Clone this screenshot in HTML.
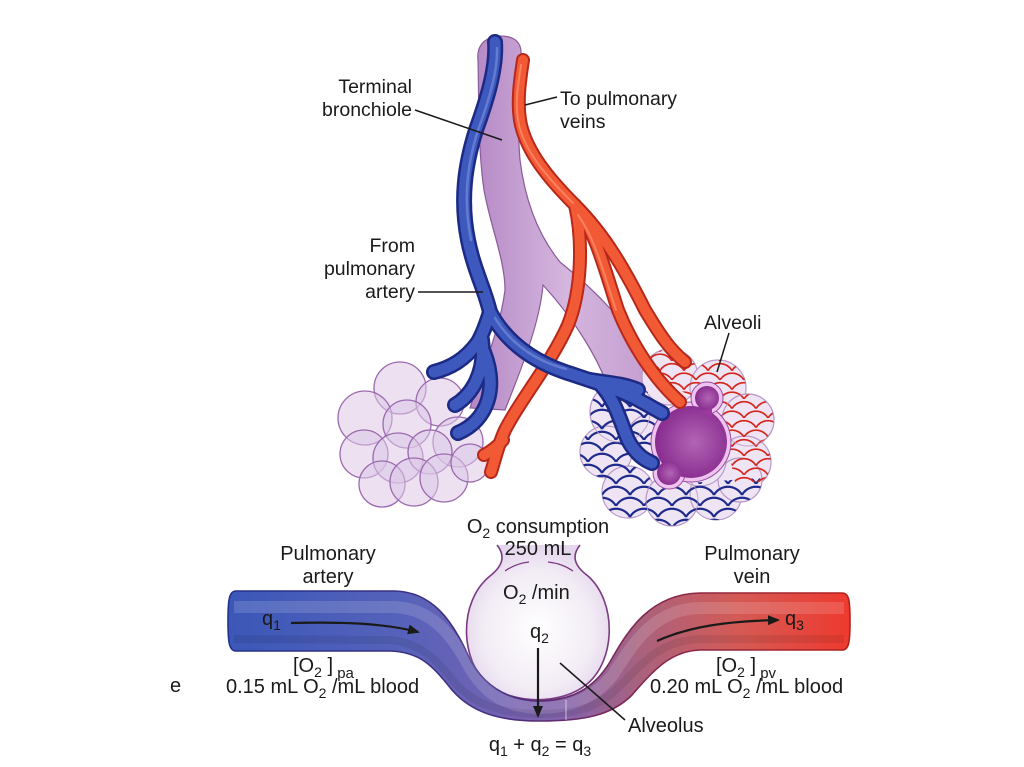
<!DOCTYPE html>
<html><head><meta charset="utf-8"><style>
html,body{margin:0;padding:0;background:#fff;}
svg{display:block;}
text{font-family:"Liberation Sans",Arial,sans-serif;fill:#1a1a1a;}
</style></head><body>
<svg width="1024" height="767" viewBox="0 0 1024 767" xmlns="http://www.w3.org/2000/svg">
<defs>
  <linearGradient id="bron" x1="0" y1="0" x2="1" y2="0">
    <stop offset="0" stop-color="#b487c4"/>
    <stop offset="0.5" stop-color="#d4b6de"/>
    <stop offset="1" stop-color="#c29ace"/>
  </linearGradient>
  <linearGradient id="tube" gradientUnits="userSpaceOnUse" x1="228" y1="0" x2="850" y2="0">
    <stop offset="0" stop-color="#3b57b8"/>
    <stop offset="0.28" stop-color="#5662ba"/>
    <stop offset="0.45" stop-color="#7563b2"/>
    <stop offset="0.55" stop-color="#8562a8"/>
    <stop offset="0.66" stop-color="#a8627e"/>
    <stop offset="0.82" stop-color="#d55a55"/>
    <stop offset="1" stop-color="#ee3a2e"/>
  </linearGradient>
  <linearGradient id="tubeS" gradientUnits="userSpaceOnUse" x1="228" y1="0" x2="850" y2="0">
    <stop offset="0" stop-color="#22328a"/>
    <stop offset="0.45" stop-color="#4a2f80"/>
    <stop offset="0.62" stop-color="#7a2a5a"/>
    <stop offset="1" stop-color="#b2221c"/>
  </linearGradient>
  <radialGradient id="alv" cx="0.5" cy="0.55" r="0.55">
    <stop offset="0" stop-color="#ffffff"/>
    <stop offset="0.7" stop-color="#f2ecf5"/>
    <stop offset="1" stop-color="#e4d6ec"/>
  </radialGradient>
  <radialGradient id="hole" cx="0.55" cy="0.5" r="0.6">
    <stop offset="0" stop-color="#b264b4"/>
    <stop offset="1" stop-color="#84268c"/>
  </radialGradient>
  <pattern id="scaleB" width="28" height="22" patternUnits="userSpaceOnUse">
    <path d="M0,22 A16,16 0 0 1 28,22 M-14,11 A16,16 0 0 1 14,11 M14,11 A16,16 0 0 1 42,11" fill="none" stroke="#1e2a8c" stroke-width="2.2"/>
  </pattern>
  <pattern id="scaleR" width="24" height="19" patternUnits="userSpaceOnUse">
    <path d="M0,19 A14,14 0 0 1 24,19 M-12,9.5 A14,14 0 0 1 12,9.5 M12,9.5 A14,14 0 0 1 36,9.5" fill="none" stroke="#d4261c" stroke-width="1.7"/>
  </pattern>
  <clipPath id="rc">
    <circle cx="670" cy="377" r="28"/><circle cx="718" cy="388" r="28"/>
    <circle cx="748" cy="420" r="26"/><circle cx="745" cy="462" r="26"/>
    <circle cx="620" cy="412" r="30"/><circle cx="606" cy="452" r="26"/>
    <circle cx="628" cy="492" r="26"/><circle cx="672" cy="500" r="26"/>
    <circle cx="716" cy="494" r="26"/><circle cx="740" cy="480" r="22"/>
    <circle cx="652" cy="440" r="26"/><circle cx="700" cy="460" r="26"/>
  </clipPath>
  <marker id="ah" markerWidth="12" markerHeight="10" refX="10" refY="5" orient="auto" markerUnits="userSpaceOnUse">
    <path d="M0,0 L12,5 L0,10 Z" fill="#1a1a1a"/>
  </marker>
</defs>

<!-- ===== Top illustration ===== -->
<path d="M478,60 C476,42 490,36 500,36 C514,36 522,42 521,55 C519,90 517,125 520,160 C525,200 538,235 560,262 C595,290 630,325 662,378 L612,398 C600,360 575,320 543,285 C540,320 525,360 505,410 L470,408 C482,370 500,330 505,290 C505,260 490,225 484,190 C478,150 479,100 478,60 Z" fill="url(#bron)" stroke="#8b5b9b" stroke-width="1.2"/>

<!-- left cluster -->
<g fill="#dcc6e6" fill-opacity="0.55" stroke="#9c6aae" stroke-width="1.3">
  <circle cx="400" cy="388" r="26"/><circle cx="440" cy="402" r="24"/>
  <circle cx="365" cy="418" r="27"/><circle cx="407" cy="424" r="24"/>
  <circle cx="458" cy="442" r="25"/><circle cx="364" cy="454" r="24"/>
  <circle cx="398" cy="458" r="25"/><circle cx="430" cy="452" r="22"/>
  <circle cx="382" cy="484" r="23"/><circle cx="414" cy="482" r="24"/>
  <circle cx="444" cy="478" r="24"/><circle cx="470" cy="463" r="19"/>
</g>

<!-- right cluster -->
<g fill="#efe4f3" stroke="#b898c8" stroke-width="1.2">
  <circle cx="670" cy="377" r="28"/><circle cx="718" cy="388" r="28"/>
  <circle cx="748" cy="420" r="26"/><circle cx="745" cy="462" r="26"/>
  <circle cx="620" cy="412" r="30"/><circle cx="606" cy="452" r="26"/>
  <circle cx="628" cy="492" r="26"/><circle cx="672" cy="500" r="26"/>
  <circle cx="716" cy="494" r="26"/><circle cx="740" cy="480" r="22"/>
  <circle cx="652" cy="440" r="26"/><circle cx="700" cy="460" r="26"/>
</g>
<g clip-path="url(#rc)">
  <path d="M570,345 L640,380 L665,420 L660,485 L760,478 L780,535 L570,535 Z" fill="url(#scaleB)"/>
  <path d="M635,345 L785,345 L785,482 L735,482 L722,420 L690,395 L655,380 Z" fill="url(#scaleR)"/>
</g>
<g fill="none" stroke="#b898c8" stroke-width="1" opacity="0.8">
  <circle cx="620" cy="412" r="30"/><circle cx="672" cy="500" r="26"/><circle cx="748" cy="420" r="26"/>
</g>
<!-- central opening -->
<g fill="#eec4ee" stroke="#9a4aa0" stroke-width="1">
  <circle cx="691" cy="442" r="40"/><circle cx="707" cy="398" r="16"/><circle cx="669" cy="473" r="16"/>
</g>
<g fill="url(#hole)">
  <circle cx="691" cy="442" r="36"/><circle cx="707" cy="398" r="12"/><circle cx="669" cy="473" r="12"/>
</g>
<path d="M700,412 L712,408 L712,418 Z" fill="#9a3a9c"/>

<!-- red vein -->
<g fill="none" stroke-linecap="round">
  <g stroke="#b8281a" stroke-width="14">
    <path d="M523,60 C520,80 517,100 520,120 C525,150 548,178 575,205"/>
    <path d="M575,205 C583,240 582,290 568,325 C550,365 520,400 505,430 C498,445 495,460 491,472"/>
    <path d="M503,440 C496,448 490,452 484,455"/>
    <path d="M575,205 C595,230 605,270 618,310 C632,345 655,380 680,402"/>
    <path d="M575,205 C605,235 625,270 645,310 C660,335 670,350 685,362"/>
  </g>
  <g stroke="#f25a35" stroke-width="10">
    <path d="M523,60 C520,80 517,100 520,120 C525,150 548,178 575,205"/>
    <path d="M575,205 C583,240 582,290 568,325 C550,365 520,400 505,430 C498,445 495,460 491,472"/>
    <path d="M503,440 C496,448 490,452 484,455"/>
    <path d="M575,205 C595,230 605,270 618,310 C632,345 655,380 680,402"/>
    <path d="M575,205 C605,235 625,270 645,310 C660,335 670,350 685,362"/>
  </g>
  <g stroke="#ff9c7c" stroke-width="2" opacity="0.6">
    <path d="M521,65 C518,85 515,102 518,120 C523,150 546,176 573,203"/>
    <path d="M578,215 C596,240 604,275 616,310"/>
  </g>
</g>

<!-- blue artery -->
<g fill="none" stroke-linecap="round">
  <g stroke="#1c2a85" stroke-width="16">
    <path d="M495,42 C497,70 485,105 476,130 C465,165 460,200 468,240 C474,270 485,290 490,312"/>
    <path d="M490,312 C486,325 482,335 478,342 C465,360 450,368 434,372"/>
    <path d="M482,340 C486,372 472,395 455,405"/>
    <path d="M484,352 C498,388 488,420 458,433"/>
    <path d="M490,312 C505,340 530,360 565,372 C595,382 615,388 635,398 C648,405 655,409 662,413"/>
    <path d="M590,380 C608,383 625,384 638,390"/>
    <path d="M600,384 C615,400 620,420 628,440 C636,455 645,460 652,463"/>
  </g>
  <g stroke="#3d59bd" stroke-width="11">
    <path d="M495,42 C497,70 485,105 476,130 C465,165 460,200 468,240 C474,270 485,290 490,312"/>
    <path d="M490,312 C486,325 482,335 478,342 C465,360 450,368 434,372"/>
    <path d="M482,340 C486,372 472,395 455,405"/>
    <path d="M484,352 C498,388 488,420 458,433"/>
    <path d="M490,312 C505,340 530,360 565,372 C595,382 615,388 635,398 C648,405 655,409 662,413"/>
    <path d="M590,380 C608,383 625,384 638,390"/>
    <path d="M600,384 C615,400 620,420 628,440 C636,455 645,460 652,463"/>
  </g>
  <g stroke="#7d93dc" stroke-width="2.5" opacity="0.6">
    <path d="M497,48 C498,72 487,106 478,130 C467,165 463,200 471,240"/>
    <path d="M495,318 C510,342 532,360 566,369"/>
  </g>
</g>

<!-- top leaders -->
<g stroke="#1a1a1a" stroke-width="1.5" fill="none">
  <line x1="415" y1="110" x2="502" y2="140"/>
  <line x1="525" y1="105" x2="557" y2="97"/>
  <line x1="418" y1="292" x2="483" y2="292"/>
  <line x1="729" y1="333" x2="717" y2="372"/>
</g>

<g font-size="19.5">
  <text x="412" y="93" text-anchor="end">Terminal</text>
  <text x="412" y="116" text-anchor="end">bronchiole</text>
  <text x="560" y="105">To pulmonary</text>
  <text x="560" y="128">veins</text>
  <text x="415" y="252" text-anchor="end">From</text>
  <text x="415" y="275" text-anchor="end">pulmonary</text>
  <text x="415" y="298" text-anchor="end">artery</text>
  <text x="704" y="329">Alveoli</text>
</g>

<!-- ===== Bottom diagram ===== -->
<path d="M497,545 C505,555 504,565 490,576 C458,602 460,660 488,684 C513,705 562,705 587,684 C616,660 617,602 588,576 C573,565 572,555 580,545" fill="url(#alv)" stroke="#7a3a82" stroke-width="1.6"/>
<path d="M505,571 C512,566 520,563 529,562" fill="none" stroke="#7a3a82" stroke-width="1.3"/>
<path d="M548,562 C557,563 566,566 573,571" fill="none" stroke="#7a3a82" stroke-width="1.3"/>

<path d="M236,591 L395,591 C432,592 452,620 468,655 C482,685 505,700 538,701 C572,701 594,688 610,662 C628,630 650,594 700,593 L842,593 C849,593 850,600 850,621 C850,642 849,650 842,650 L700,650 C672,651 655,668 632,695 C612,715 585,721 540,721 C500,721 472,713 452,690 C432,665 420,652 390,651 L236,651 C229,651 228,642 228,621 C228,600 229,591 236,591 Z" fill="url(#tube)" stroke="url(#tubeS)" stroke-width="1.6"/>
<path d="M234,607 L395,607 C435,609 455,640 470,668 C485,693 505,707 538,708 C572,708 594,697 612,676 C632,646 652,609 700,608 L844,608" fill="none" stroke="#ffffff" stroke-opacity="0.14" stroke-width="12"/>
<path d="M234,639 L390,640 C425,643 440,665 457,685 C477,706 505,714 540,714 C580,714 600,706 620,686 C645,661 660,641 700,639 L844,639" fill="none" stroke="#000" stroke-opacity="0.08" stroke-width="8"/>
<line x1="566" y1="700" x2="566" y2="720" stroke="#ffffff" stroke-opacity="0.6" stroke-width="1"/>

<g fill="none" stroke="#1a1a1a" stroke-width="2.2">
  <path d="M291,623 C330,622 380,622 418,632" marker-end="url(#ah)"/>
  <path d="M657,641 C690,626 730,621 778,620" marker-end="url(#ah)"/>
  <path d="M538,648 L538,716" marker-end="url(#ah)"/>
</g>
<line x1="560" y1="663" x2="625" y2="720" stroke="#1a1a1a" stroke-width="1.5"/>

<g font-size="20">
  <text x="538" y="533" text-anchor="middle">O<tspan dy="5" font-size="14">2</tspan><tspan dy="-5"> consumption</tspan></text>
  <text x="538" y="555" text-anchor="middle">250 mL</text>
  <text x="328" y="560" text-anchor="middle">Pulmonary</text>
  <text x="328" y="583" text-anchor="middle">artery</text>
  <text x="752" y="560" text-anchor="middle">Pulmonary</text>
  <text x="752" y="583" text-anchor="middle">vein</text>
  <text x="503" y="599">O<tspan dy="5" font-size="14">2</tspan><tspan dy="-5"> /min</tspan></text>
  <text x="262" y="625">q<tspan dy="5" font-size="14">1</tspan></text>
  <text x="530" y="638">q<tspan dy="5" font-size="14">2</tspan></text>
  <text x="785" y="625">q<tspan dy="5" font-size="14">3</tspan></text>
  <text x="293" y="672">[O<tspan dy="5" font-size="14">2</tspan><tspan dy="-5"> ]</tspan><tspan dy="6" font-size="15"> pa</tspan></text>
  <text x="226" y="693">0.15 mL O<tspan dy="5" font-size="14">2</tspan><tspan dy="-5"> /mL blood</tspan></text>
  <text x="716" y="672">[O<tspan dy="5" font-size="14">2</tspan><tspan dy="-5"> ]</tspan><tspan dy="6" font-size="15"> pv</tspan></text>
  <text x="650" y="693">0.20 mL O<tspan dy="5" font-size="14">2</tspan><tspan dy="-5"> /mL blood</tspan></text>
  <text x="170" y="692">e</text>
  <text x="628" y="732">Alveolus</text>
  <text x="540" y="751" text-anchor="middle">q<tspan dy="5" font-size="14">1</tspan><tspan dy="-5"> + q</tspan><tspan dy="5" font-size="14">2</tspan><tspan dy="-5"> = q</tspan><tspan dy="5" font-size="14">3</tspan></text>
</g>
</svg>
</body></html>
